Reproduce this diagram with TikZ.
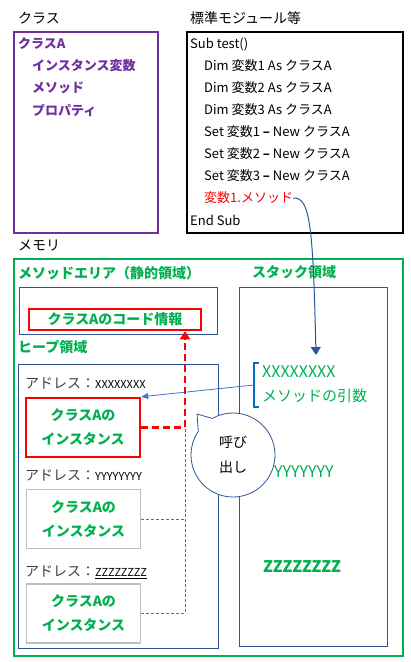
\documentclass[tikz,border=0pt]{standalone}
\usepackage{fontspec}
\setmainfont{Noto Sans CJK JP}
\usetikzlibrary{arrows.meta}
\definecolor{clspurple}{HTML}{7030A0}
\definecolor{memgreen}{HTML}{00B050}
\definecolor{areablue}{HTML}{2F5597}
\definecolor{linkblue}{HTML}{4472C4}
\definecolor{brkblue}{HTML}{0070C0}
\definecolor{instgray}{HTML}{BFBFBF}
\definecolor{addrgray}{HTML}{404040}
\begin{document}
\begin{tikzpicture}[x=1pt, y=-1pt,
        lbl/.style = {anchor=west, inner sep=0pt, font=\fontsize{14}{16}\selectfont},
        grn/.style = {text=memgreen, font=\fontsize{14}{16}\selectfont\bfseries},
        code/.style = {anchor=west, inner sep=0pt, font=\fontsize{13}{15}\selectfont},
        member/.style = {anchor=west, inner sep=0pt, text=clspurple, font=\fontsize{13}{15}\selectfont\bfseries},
        area/.style = {draw=areablue, line width=0.9pt},
        inst/.style = {minimum width=114pt, minimum height=59pt, inner sep=0pt, align=center,
            text=memgreen, font=\fontsize{14}{24}\selectfont\bfseries}]
    \useasboundingbox (0,0) rectangle (411,662);
    % class module
    \node[lbl] (clslbl) at (18,18) {クラス};
    \draw[clspurple, line width=2pt] (14,32) rectangle (158,233);
    \node[member] (clsA) at (18,44) {クラスA};
    \node[member] (fields) at (32,66) {インスタンス変数};
    \node[member] (method) at (32,88) {メソッド};
    \node[member] (prop) at (32,110) {プロパティ};
    % standard module
    \node[lbl] (modlbl) at (190,18) {標準モジュール等};
    \draw[line width=2.5pt] (187,32) rectangle (403,233);
    \node[code] (sub) at (190,44) {Sub test()};
    \node[code] (dim1) at (204,66) {Dim 変数1 As クラスA};
    \node[code] (dim2) at (204,88) {Dim 変数2 As クラスA};
    \node[code] (dim3) at (204,110) {Dim 変数3 As クラスA};
    \node[code] (set1) at (204,132) {Set 変数1 {\bfseries –} New クラスA};
    \node[code] (set2) at (204,154) {Set 変数2 {\bfseries –} New クラスA};
    \node[code] (set3) at (204,176) {Set 変数3 {\bfseries –} New クラスA};
    \node[code, text=red] (call) at (204,198) {変数1.メソッド};
    \node[code] (endsub) at (190,220) {End Sub};
    % memory
    \node[lbl] (memlbl) at (18,245) {メモリ};
    \draw[memgreen, line width=2.5pt] (14,259) rectangle (403,656);
    \node[lbl, grn] (mthlbl) at (18,273) {メソッドエリア（静的領域）};
    \draw[area] (19,287) rectangle (217,334);
    \node[draw=red, line width=2.5pt, minimum width=172pt, minimum height=21pt, inner sep=0pt, grn] (codeinfo) at (115,319.5) {クラスAのコード情報};
    % heap
    \node[lbl, grn] (heaplbl) at (18,347) {ヒープ領域};
    \draw[area] (18,364) rectangle (218,648);
    \node[lbl, text=addrgray] (addr1) at (25,383) {アドレス：{\fontsize{11}{13}\selectfont\color{black}XXXXXXXX}};
    \node[inst, draw=red, line width=2.5pt] (inst1) at (83,427.5) {クラスAの\\インスタンス};
    \node[lbl, text=addrgray] (addr2) at (25,475) {アドレス：{\fontsize{11}{13}\selectfont\color{black}YYYYYYYY}};
    \node[inst, draw=instgray, line width=1.2pt] (inst2) at (83.5,519) {クラスAの\\インスタンス};
    \node[lbl, text=addrgray] (addr3) at (25,572) {アドレス：{\fontsize{11}{13}\selectfont\color{black}\underline{ZZZZZZZZ}}};
    \node[inst, draw=instgray, line width=1.2pt] (inst3) at (83.5,613.5) {クラスAの\\インスタンス};
    % stack
    \node[lbl, grn] (stacklbl) at (252,272) {スタック領域};
    \draw[area] (239,287) rectangle (387,646);
    \node[anchor=west, inner sep=0pt, align=left, text=memgreen, font=\fontsize{15}{24}\selectfont] (arg) at (262,384) {{\fontsize{16}{18}\selectfont XXXXXXXX}\\メソッドの引数};
    \draw[brkblue, line width=2pt] (259,363) -- (254,363) -- (254,407) -- (259,407);
    \coordinate (brkmid) at (254,385);
    \node[anchor=west, inner sep=0pt, text=memgreen, font=\fontsize{16}{18}\selectfont] (yval) at (274,472) {YYYYYYY};
    \node[anchor=west, inner sep=0pt, text=memgreen, font=\fontsize{16}{18}\selectfont\bfseries] (zval) at (263,567) {ZZZZZZZZ};
    % links
    \coordinate (argtop) at (316,355);
    \coordinate (j) at (185,0);
    \draw[areablue, line width=1pt, -{Triangle[width=10pt,length=8pt]}] (call.east) .. controls (310,197) and (313,225) .. (argtop);
    \draw[linkblue, line width=0.8pt, -{Triangle[width=6pt,length=7pt]}] (brkmid) -- (inst1.north east);
    \draw[linkblue, line width=0.9pt, dash pattern=on 3pt off 2pt] (inst3.east) -| (j |- inst1.east);
    \draw[linkblue, line width=0.9pt, dash pattern=on 3pt off 2pt] (inst2.east) -- (j |- inst2.east);
    \draw[red, line width=2.5pt, dash pattern=on 7pt off 4pt, -{Triangle[width=10pt,length=8pt]}] (inst1.east) -| (j |- codeinfo.south);
    % callout
    \node[circle, draw=areablue, fill=white, line width=0.8pt, minimum size=84pt, inner sep=0pt, align=center,
        font=\fontsize{14}{25}\selectfont] (bubble) at (233,455) {呼び\\出し};
    \coordinate (tail) at (197,414);
    \fill[white] (bubble.120) -- (tail) -- (bubble.145) -- ([shift={(145:36pt)}]bubble.center) -- ([shift={(120:36pt)}]bubble.center) -- cycle;
    \draw[areablue, line width=0.8pt, line join=round] (bubble.120) -- (tail) -- (bubble.145);
\end{tikzpicture}
\end{document}
